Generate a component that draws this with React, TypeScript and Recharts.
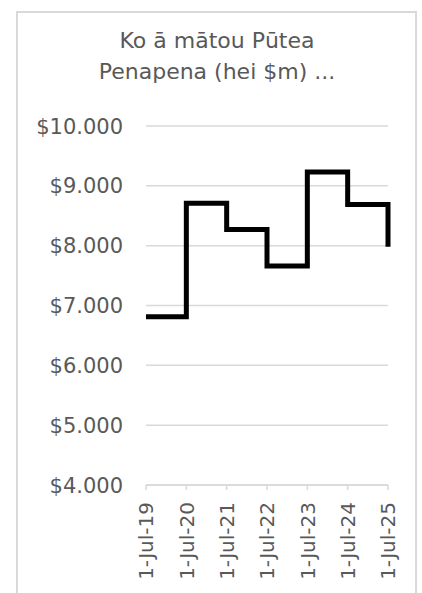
import { LineChart, Line, XAxis, YAxis, CartesianGrid } from "recharts";

// Reserves balance at each 1 July, in $m
const dates = ["1-Jul-19", "1-Jul-20", "1-Jul-21", "1-Jul-22", "1-Jul-23", "1-Jul-24", "1-Jul-25"];
const reserves = [6.81, 8.71, 8.27, 7.66, 9.23, 8.69, 7.98];
const yTicks = [4, 5, 6, 7, 8, 9, 10];
const titleLines = ["Ko ā mātou Pūtea", "Penapena (hei $m) ..."];

const FONT = "'DejaVu Sans', sans-serif";
const TEXT = "#595959";
const GRID = "#d9d9d9";

const data = dates.map((d, i) => ({ date: d, value: reserves[i] }));

function YTick(props: any) {
  const { y, payload } = props;
  return (
    <text x={123} y={y} dy="0.36em" textAnchor="end" fontFamily={FONT} fontSize={21} fill={TEXT}>
      {"$" + payload.value.toFixed(3)}
    </text>
  );
}

function XTick(props: any) {
  const { x, payload } = props;
  const y = 502;
  return (
    <text
      x={x}
      y={y}
      dy="0.36em"
      textAnchor="end"
      transform={`rotate(-90, ${x}, ${y})`}
      fontFamily={FONT}
      fontSize={20}
      fill={TEXT}
    >
      {payload.value}
    </text>
  );
}

export default function App() {
  return (
    <div style={{ position: "absolute", left: 0, top: 0, width: 422, height: 593, overflow: "hidden", background: "#fff" }}>
      <div
        style={{
          position: "absolute",
          left: 16,
          top: 11,
          width: 401,
          height: 620,
          border: `2px solid ${GRID}`,
          boxSizing: "border-box",
        }}
      />
      <div
        style={{
          position: "absolute",
          left: 17,
          top: 25,
          width: 400,
          textAlign: "center",
          fontFamily: FONT,
          fontSize: 22,
          lineHeight: "31px",
          color: TEXT,
        }}
      >
        {titleLines.map((t) => (
          <div key={t}>{t}</div>
        ))}
      </div>
      <div style={{ position: "absolute", left: 0, top: 0 }}>
        <LineChart width={422} height={593} data={data} margin={{ top: 126, right: 34, bottom: 8, left: 16 }}>
          <CartesianGrid vertical={false} stroke={GRID} strokeWidth={1.5} />
          <XAxis
            dataKey="date"
            height={100}
            interval={0}
            axisLine={{ stroke: GRID, strokeWidth: 1.5 }}
            tickLine={{ stroke: GRID, strokeWidth: 1.5 }}
            tickSize={5}
            tick={<XTick />}
          />
          <YAxis
            width={130}
            domain={[4, 10]}
            ticks={yTicks}
            axisLine={false}
            tickLine={false}
            tick={<YTick />}
          />
          <Line
            dataKey="value"
            type="stepAfter"
            stroke="#000"
            strokeWidth={5}
            strokeLinejoin="miter"
            dot={false}
            activeDot={false}
            isAnimationActive={false}
          />
        </LineChart>
      </div>
    </div>
  );
}
